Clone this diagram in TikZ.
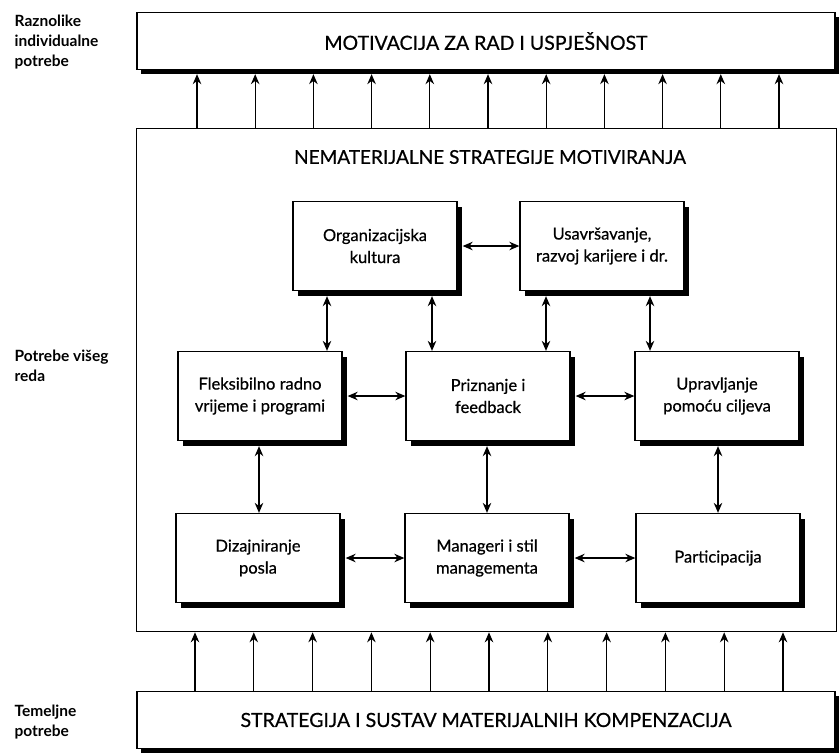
\documentclass[tikz,border=0pt]{standalone}
\usepackage{fontspec}
\setmainfont{Lato}
\newfontfamily\gill{Lato}[FakeBold=0.6]
\usetikzlibrary{shadows,arrows.meta}
\begin{document}
\begin{tikzpicture}[x=1pt,y=-1pt,>={Stealth[length=10pt,width=8.5pt]},line width=1.3pt,
	box/.style={draw,fill=white,minimum width=164pt,minimum height=89pt,align=center,
		font=\gill\fontsize{16.5}{22}\selectfont,
		drop shadow={shadow xshift=5pt,shadow yshift=-5pt,fill=black,opacity=1}},
	band/.style={draw,fill=white,minimum width=698pt,minimum height=57pt,
		font=\gill\fontsize{19.5}{24}\selectfont,
		drop shadow={shadow xshift=4pt,shadow yshift=-4pt,fill=black,opacity=1}},
	side/.style={anchor=north west,align=left,inner sep=0pt,font=\fontsize{15.5}{20}\selectfont\bfseries}]
	\useasboundingbox (0,0) rectangle (839,753);
	\node[draw,minimum width=700pt,minimum height=503pt,anchor=north west] (nemat) at (136,128) {};
	\node[font=\gill\fontsize{19}{24}\selectfont] (naslov) at (490,157) {NEMATERIJALNE STRATEGIJE MOTIVIRANJA};
	\node[band] (motiv) at (486,41) {MOTIVACIJA ZA RAD I USPJEŠNOST};
	\node[band] (temelj) at (486,720) {STRATEGIJA I SUSTAV MATERIJALNIH KOMPENZACIJA};
	\node[side] (raznolike) at (14,14) {Raznolike\\individualne\\potrebe};
	\node[side] (visi) at (14,349) {Potrebe višeg\\reda};
	\node[side] (temeljne) at (14,704) {Temeljne\\potrebe};
	% vertikalne strelice izmedju razina
	\foreach \i in {0,...,10} {
		\coordinate (g\i) at ({197+58.2*\i},0);
		\coordinate (d\i) at ({195+58.8*\i},0);
		\draw[->,shorten >=4pt] (nemat.north -| g\i) -- (motiv.south -| g\i);
		\draw[->] (temelj.north -| d\i) -- (nemat.south -| d\i);
	}
	% strategije
	\node[box] (kultura) at (375,246) {Organizacijska\\kultura};
	\node[box] (usavr) at (602,246) {Usavršavanje,\\razvoj karijere i dr.};
	\node[box] (fleks) at (260,396) {Fleksibilno radno\\vrijeme i programi};
	\node[box] (priznanje) at (488,396) {Priznanje i\\feedback};
	\node[box] (mbo) at (717,396) {Upravljanje\\pomoću ciljeva};
	\node[box] (dizajn) at (258,558) {Dizajniranje\\posla};
	\node[box] (manager) at (487,558) {Manageri i stil\\managementa};
	\node[box] (partic) at (718,558) {Participacija};
	\foreach \x/\a/\b in {327/kultura/fleks,432/kultura/priznanje,546/usavr/priznanje,650/usavr/mbo,
		259/fleks/dizajn,487/priznanje/manager,718/mbo/partic} {
		\coordinate (s) at (\x,0);
		\draw[<->,shorten <=5pt] (\a.south -| s) -- (\b.north -| s);
	}
	\foreach \a/\b in {kultura/usavr,fleks/priznanje,priznanje/mbo,dizajn/manager,manager/partic}
		\draw[<->,shorten <=5pt] (\a.east) -- (\b.west);
\end{tikzpicture}
\end{document}
